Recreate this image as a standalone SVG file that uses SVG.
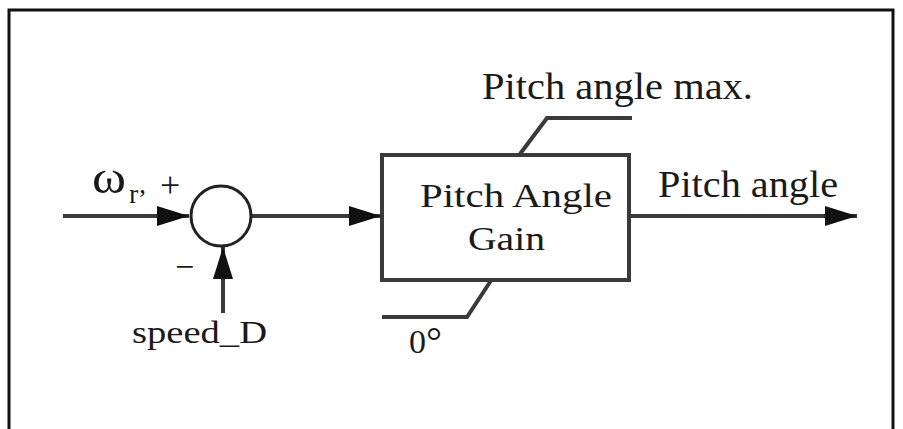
<svg xmlns="http://www.w3.org/2000/svg" width="903" height="429" viewBox="0 0 903 429">
<style>
.t{font-family:"Liberation Serif","Times New Roman",serif;fill:#1a1a1a}
.ln{fill:none;stroke:#3a3a3a;stroke-width:4}
.fr{fill:none;stroke:#111;stroke-width:3}
</style>
<defs>
<marker id="arr" markerUnits="userSpaceOnUse" markerWidth="32" markerHeight="20" refX="32" refY="10" orient="auto" viewBox="0 0 32 20">
<path d="M0,0 L32,10 L0,20 z" fill="#111"/>
</marker>
</defs>
<rect width="903" height="429" fill="#fff"/>
<path class="fr" d="M9,429 L9,10 L893,10 L893,429"/>
<g id="connectors">
<path class="ln" d="M63,216 L189,216" marker-end="url(#arr)"/>
<path class="ln" d="M252,216 L381,216" marker-end="url(#arr)"/>
<path class="ln" d="M631,216 L857,216" marker-end="url(#arr)"/>
<path class="ln" d="M223,313 L223,247" marker-end="url(#arr)"/>
<path class="ln" d="M520,154 L547,118 L632,118"/>
<path class="ln" d="M492,279 L467,317 L382,317"/>
</g>
<g id="sum">
<circle cx="221" cy="216" r="30" fill="#fff" stroke="#222" stroke-width="3"/>
<text class="t" x="92" y="193" font-size="46" textLength="34" lengthAdjust="spacingAndGlyphs">ω</text>
<text class="t" x="129" y="203" font-size="28">r</text>
<text class="t" x="139" y="193" font-size="28">,</text>
<text class="t" x="160" y="197" font-size="36">+</text>
<text class="t" x="175" y="278" font-size="34">−</text>
</g>
<g id="gain">
<rect x="382" y="155" width="247" height="125" fill="#fff" stroke="#3a3a3a" stroke-width="4"/>
<text class="t" x="420" y="207" font-size="34" textLength="192" lengthAdjust="spacingAndGlyphs">Pitch Angle</text>
<text class="t" x="468" y="250" font-size="34" textLength="77" lengthAdjust="spacingAndGlyphs">Gain</text>
</g>
<g id="labels">
<text class="t" x="482" y="99" font-size="38" textLength="271" lengthAdjust="spacingAndGlyphs">Pitch angle max.</text>
<text class="t" x="658" y="197" font-size="38" textLength="180" lengthAdjust="spacingAndGlyphs">Pitch angle</text>
<text class="t" x="132" y="343" font-size="32" textLength="135" lengthAdjust="spacingAndGlyphs">speed_D</text>
<text class="t" x="409" y="353" font-size="34">0<tspan font-size="40" dy="2">°</tspan></text>
</g>
</svg>
